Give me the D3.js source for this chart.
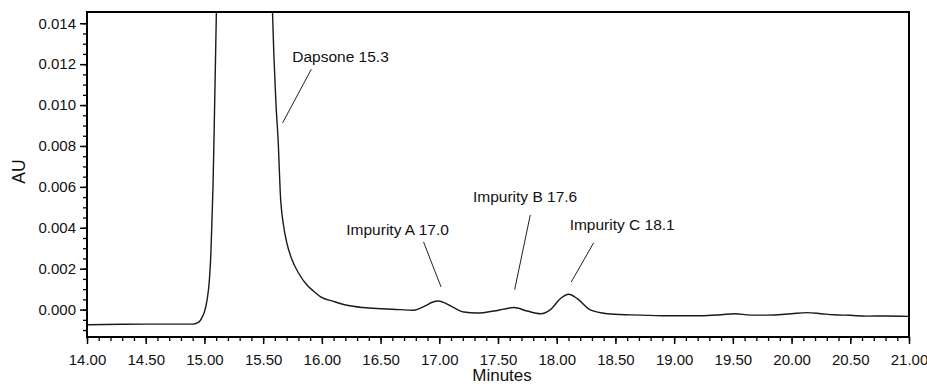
<!DOCTYPE html>
<html>
<head>
<meta charset="utf-8">
<script src="https://cdn.jsdelivr.net/npm/d3@7"></script>
<style>
  html, body { margin: 0; padding: 0; background: #fff; }
  svg { display: block; font-family: "Liberation Sans", Arial, sans-serif; }
</style>
</head>
<body>
<svg id="chart" width="927" height="386"></svg>
<script>
// chromatogram trace (minutes, AU)
const times = [
  14.00, 14.30, 14.60, 14.90, 14.94, 14.966, 14.985, 15.00, 15.022, 15.042, 15.056, 15.064,
  15.073, 15.087, 15.10, 15.12, 15.16, 15.22, 15.30, 15.40, 15.50, 15.56, 15.58, 15.61,
  15.63, 15.645, 15.674, 15.70, 15.745, 15.80, 15.873, 15.93, 15.99, 16.10, 16.214, 16.35,
  16.47, 16.60, 16.782, 16.88, 16.94, 16.995, 17.05, 17.10, 17.208, 17.322, 17.464, 17.55,
  17.634, 17.748, 17.862, 17.947, 18.032, 18.103, 18.174, 18.29, 18.43, 18.63, 18.90, 19.23,
  19.40, 19.52, 19.65, 19.79, 20.00, 20.13, 20.25, 20.36, 20.50, 20.64, 20.80, 21.00
];
const absorbance = [
  -0.00074, -0.00072, -0.00071, -0.00071, -0.00065, -0.00052, -0.00032, -0.00012, 0.00046, 0.00143, 0.0029, 0.00437,
  0.0060, 0.0100, 0.0140, 0.0200, 0.0300, 0.0400, 0.0450, 0.0440, 0.0340, 0.0200, 0.0145, 0.0100,
  0.0080, 0.0058, 0.0041, 0.0033, 0.00245, 0.0018, 0.0012, 0.0009, 0.00062, 0.0004, 0.00021, 0.0001,
  0.00005, 0.00002, -0.00003, 0.00018, 0.00036, 0.00042, 0.00032, 0.00017, -0.00012, -0.00017, -0.00007, 0.00002,
  0.0001, -0.00007, -0.0002, 0.0, 0.00054, 0.00075, 0.00054, -0.00003, -0.0002, -0.00026, -0.0003, -0.0003,
  -0.00025, -0.0002, -0.00027, -0.00027, -0.0002, -0.00015, -0.0002, -0.00025, -0.00028, -0.00032, -0.00031, -0.00033
];

// peak labels: text anchor and leader line ends, in data units
const peakLabels = ['Dapsone 15.3', 'Impurity A 17.0', 'Impurity B 17.6', 'Impurity C 18.1'];
const labelT = [15.748, 16.208, 17.287, 18.110];
const labelV = [0.01212, 0.003637, 0.005267, 0.003882];
const leaderT1 = [15.910, 16.866, 17.775, 18.314];
const leaderV1 = [0.01175, 0.003309, 0.004627, 0.00326];
const leaderT2 = [15.666, 17.015, 17.642, 18.124];
const leaderV2 = [0.00913, 0.001106, 0.000979, 0.001351];

const xDomain = [14, 21];
const yDomain = [-0.00134, 0.01455];
const xMajor = d3.range(14, 21.001, 0.5);
const xMinor = d3.range(14, 21.001, 0.1);
const yMajor = d3.range(0, 0.0141, 0.002);
const yMinor = d3.range(-0.001, 0.0145, 0.0005);

(function () {
  const svg = d3.select('#chart');
  const left = 87, right = 909, top = 12, bottom = 337;
  const font = '"Liberation Sans", Arial, sans-serif';

  const x = d3.scaleLinear().domain(xDomain).range([left, right]);
  const y = d3.scaleLinear().domain(yDomain).range([bottom, top]);

  // minor ticks
  svg.append('g')
    .attr('transform', 'translate(0,' + bottom + ')')
    .call(d3.axisBottom(x).tickValues(xMinor).tickSize(4).tickFormat(''))
    .call(function (g) { g.select('.domain').remove(); })
    .selectAll('line').attr('stroke', '#000').attr('stroke-width', 1.3);

  svg.append('g')
    .attr('transform', 'translate(' + left + ',0)')
    .call(d3.axisLeft(y).tickValues(yMinor).tickSize(4).tickFormat(''))
    .call(function (g) { g.select('.domain').remove(); })
    .selectAll('line').attr('stroke', '#000').attr('stroke-width', 1.3);

  // major ticks + labels
  const xAxis = svg.append('g')
    .attr('transform', 'translate(0,' + bottom + ')')
    .call(d3.axisBottom(x).tickValues(xMajor).tickSize(7).tickPadding(10).tickFormat(d3.format('.2f')));
  xAxis.select('.domain').remove();
  xAxis.selectAll('line').attr('stroke', '#000').attr('stroke-width', 1.5);
  xAxis.selectAll('text').attr('font-size', 15).attr('fill', '#111').attr('font-family', font);

  const yAxis = svg.append('g')
    .attr('transform', 'translate(' + left + ',0)')
    .call(d3.axisLeft(y).tickValues(yMajor).tickSize(7).tickPadding(4).tickFormat(d3.format('.3f')));
  yAxis.select('.domain').remove();
  yAxis.selectAll('line').attr('stroke', '#000').attr('stroke-width', 1.5);
  yAxis.selectAll('text').attr('font-size', 15).attr('fill', '#111').attr('font-family', font);

  // clip + trace
  svg.append('clipPath').attr('id', 'plot-clip')
    .append('rect').attr('x', left).attr('y', top).attr('width', right - left).attr('height', bottom - top);

  const pts = times.map(function (t, i) { return [t, absorbance[i]]; });
  const line = d3.line()
    .x(function (d) { return x(d[0]); })
    .y(function (d) { return y(d[1]); })
    .curve(d3.curveMonotoneX);

  svg.append('path')
    .datum(pts)
    .attr('clip-path', 'url(#plot-clip)')
    .attr('d', line)
    .attr('fill', 'none')
    .attr('stroke', '#1a1a1a')
    .attr('stroke-width', 1.4);

  // frame
  svg.append('rect')
    .attr('x', left).attr('y', top)
    .attr('width', right - left).attr('height', bottom - top)
    .attr('fill', 'none').attr('stroke', '#000').attr('stroke-width', 2);

  // peak annotations
  const ann = svg.append('g');
  peakLabels.forEach(function (lbl, i) {
    ann.append('line')
      .attr('x1', x(leaderT1[i])).attr('y1', y(leaderV1[i]))
      .attr('x2', x(leaderT2[i])).attr('y2', y(leaderV2[i]))
      .attr('stroke', '#222').attr('stroke-width', 1);
    ann.append('text')
      .attr('x', x(labelT[i])).attr('y', y(labelV[i]))
      .attr('font-size', 15.5).attr('fill', '#111')
      .text(lbl);
  });

  // axis titles
  svg.append('text')
    .attr('x', (left + right) / 2 + 4).attr('y', 381)
    .attr('text-anchor', 'middle').attr('font-size', 17).attr('fill', '#111')
    .text('Minutes');

  svg.append('text')
    .attr('transform', 'translate(25,' + ((top + bottom) / 2 - 3) + ') rotate(-90)')
    .attr('text-anchor', 'middle').attr('font-size', 17.5).attr('fill', '#111')
    .text('AU');
})();
</script>
</body>
</html>
